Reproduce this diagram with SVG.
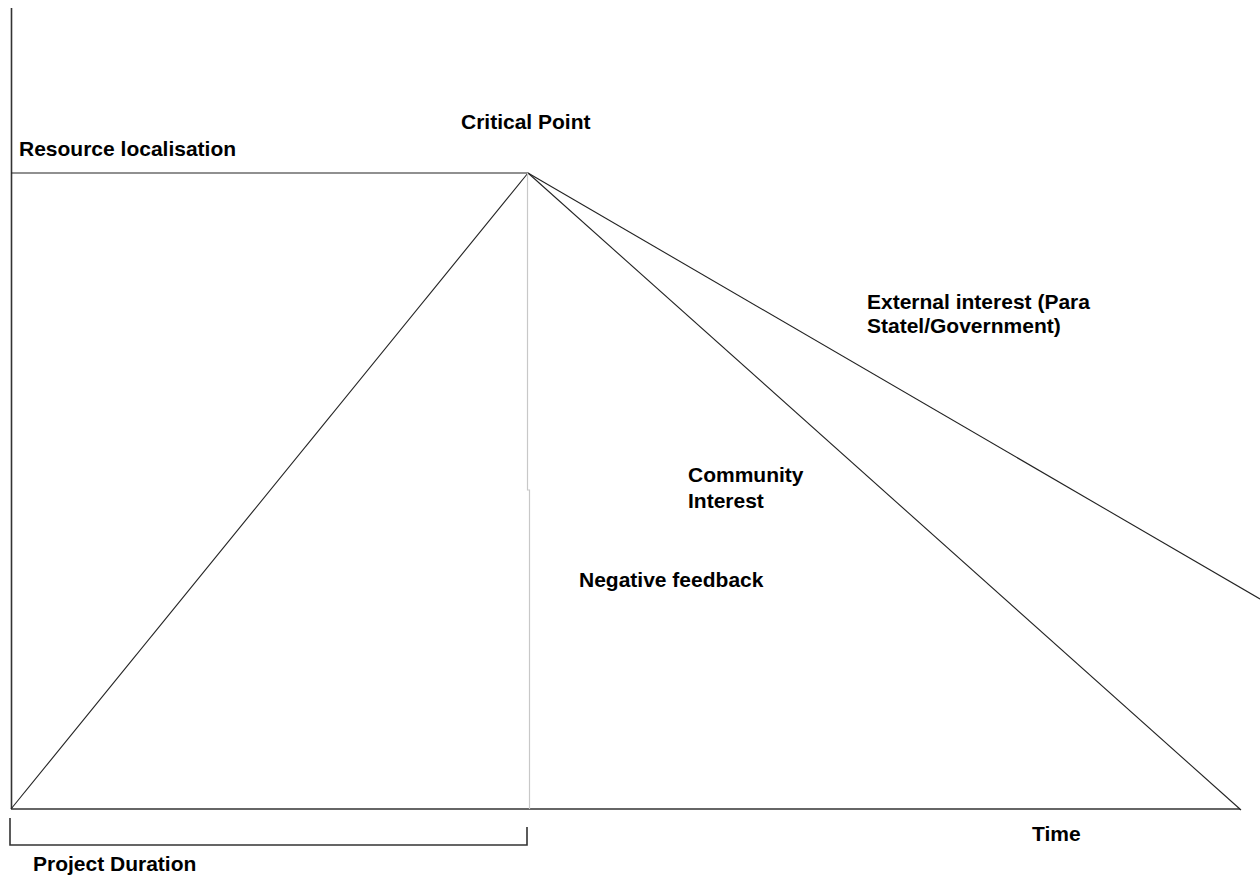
<svg xmlns="http://www.w3.org/2000/svg" width="1260" height="877" viewBox="0 0 1260 877">
<style>
.t{font-family:"Liberation Sans",Arial,sans-serif;font-weight:bold;font-size:21px;fill:#000}
.ax{stroke:#333;stroke-width:1.6;fill:none}
.ln{stroke:#222;stroke-width:1.1;fill:none}
.gr{stroke:#c8c8c8;stroke-width:1.2;fill:none}
</style>
<rect width="1260" height="877" fill="#fff"/>
<g id="connectors">
<line class="ax" x1="11.5" y1="8" x2="11.5" y2="809"/>
<line class="ax" x1="11" y1="809" x2="1240" y2="809"/>
<line class="ln" x1="11" y1="173" x2="528" y2="173"/>
<line class="ln" x1="11" y1="809" x2="528" y2="173"/>
<line class="ln" x1="528" y1="173" x2="1241" y2="810"/>
<line class="ln" x1="528" y1="173" x2="1260" y2="599"/>
<polyline class="gr" points="527.5,173 527.5,490 529.5,490 529.5,809"/>
<polyline class="ax" points="10,818 10,845 527,845 527,827"/>
</g>
<g id="resource"><text class="t" x="19" y="156">Resource localisation</text></g>
<g id="critical"><text class="t" x="461" y="129">Critical Point</text></g>
<g id="external"><text class="t" x="867" y="309">External interest (Para</text><text class="t" x="867" y="333">Statel/Government)</text></g>
<g id="community"><text class="t" x="688" y="482">Community</text><text class="t" x="688" y="508">Interest</text></g>
<g id="negative"><text class="t" x="579" y="587">Negative feedback</text></g>
<g id="time"><text class="t" x="1032" y="841">Time</text></g>
<g id="duration"><text class="t" x="33" y="871">Project Duration</text></g>
</svg>
